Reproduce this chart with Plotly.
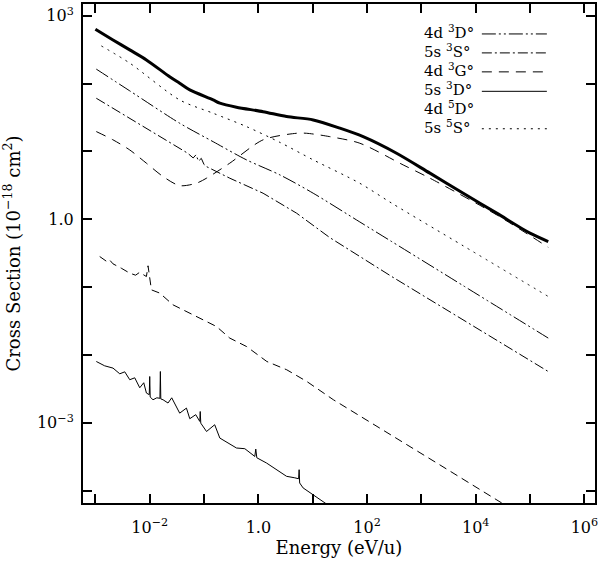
import plotly.graph_objects as go

# ---------------- data ----------------
# Thick solid curve (top)
total_E = [1.0e-3, 2.11e-3, 4.29e-3, 8.69e-3, 0.0233, 0.0356, 0.0546, 0.147, 0.195, 0.395,
           1.22, 3.30, 10.2, 31.6, 84.7, 349, 1435, 5890, 24300, 99500, 216000]
total_S = [631, 439, 313, 223, 126, 101, 80.5, 57.3, 51.3, 44.8,
           38.5, 32.6, 29.1, 22.0, 16.5, 9.40, 4.78, 2.42, 1.23, 0.624, 0.470]

# 5s 5S° (dotted)
s5S_E = [1.29e-3, 4.29e-3, 0.0356, 0.147, 0.604, 2.48, 10.2, 73.6, 283, 5890, 216000]
s5S_S = [358, 200, 57.3, 36.5, 23.2, 13.6, 7.50, 3.39, 1.73, 0.406, 0.0728]

# 4d 3D° (dash-dot-dot)
d3D_E = [1.04e-3, 4.29e-3, 0.0356, 0.147, 0.604, 2.48, 10.2, 73.6, 283, 5890, 216000]
d3D_S = [163, 78.0, 26.0, 13.9, 7.50, 4.51, 2.42, 0.912, 0.470, 0.105, 0.01774]

# 5s 3S° (dash-dot)
s3S_E = [1.04e-3, 4.29e-3, 0.0356, 0.050, 0.063, 0.071, 0.079, 0.089, 0.100, 0.111,
         0.297, 1.22, 5.04, 20.6, 283, 5890, 216000]
s3S_S = [60.7, 30.8, 11.1, 9.4, 8.0, 8.9, 7.2, 7.9, 6.4, 5.97,
         4.03, 2.42, 1.23, 0.537, 0.1435, 0.0328, 0.00571]

# 4d 3G° (dashed, with the dip)
d3G_E = [1.04e-3, 2.11e-3, 4.29e-3, 8.69e-3, 0.0176, 0.0356, 0.0724, 0.111, 0.297, 1.22,
         5.04, 7.69, 20.6, 73.6, 462, 1435, 24300, 216000]
d3G_S = [19.6, 14.8, 10.5, 6.70, 4.26, 3.13, 3.40, 4.03, 6.70, 14.8,
         18.5, 18.5, 16.5, 13.2, 6.32, 4.03, 1.16, 0.386]

# 4d 5D° (lower dashed, noisy)
d5D_E = [1.20e-3, 1.6e-3, 1.8e-3, 2.11e-3, 3.0e-3, 4.29e-3, 5.5e-3, 6.5e-3, 8.69e-3, 9.31e-3,
         0.01074, 0.01528, 0.02685, 0.0546, 0.0834, 0.169, 0.297, 0.604, 1.43, 3.33,
         7.78, 24.0, 2190, 39800]
d5D_S = [0.2825, 0.240, 0.255, 0.2203, 0.190, 0.1607, 0.150, 0.165, 0.1432, 0.2061,
         0.0912, 0.0817, 0.0548, 0.0414, 0.0349, 0.0263, 0.01774, 0.01334, 0.00802, 0.00605,
         0.00407, 0.00219, 2.40e-4, 5.75e-5]

# 5s 3D° (lowest solid, noisy)
s3D_E = [1.04e-3, 1.48e-3, 2.11e-3, 2.81e-3, 3.47e-3, 4.29e-3, 5.30e-3, 6.55e-3, 7.76e-3, 8.69e-3,
         9.8e-3, 1.00e-2, 1.02e-2, 1.15e-2, 1.35e-2, 1.54e-2, 1.57e-2, 1.60e-2, 1.76e-2, 2.17e-2,
         2.54e-2, 3.56e-2, 4.74e-2, 5.46e-2, 7.03e-2, 8.34e-2, 8.5e-2, 8.7e-2, 0.111, 0.157,
         0.195, 0.395, 0.562, 0.859, 0.895, 0.935, 1.41, 3.30, 4.68, 5.5, 5.62, 5.75,
         6.65, 10.2, 16.7, 25.5]
s3D_S = [8.02e-3, 6.93e-3, 6.41e-3, 5.28e-3, 5.65e-3, 4.32e-3, 4.61e-3, 3.29e-3, 3.90e-3, 2.75e-3,
         2.6e-3, 4.82e-3, 2.4e-3, 2.19e-3, 2.34e-3, 2.3e-3, 5.71e-3, 2.25e-3, 2.19e-3, 1.96e-3,
         2.34e-3, 1.39e-3, 1.65e-3, 1.15e-3, 1.32e-3, 1.05e-3, 1.47e-3, 9.9e-4, 7.46e-4, 9.38e-4,
         5.97e-4, 4.26e-4, 4.16e-4, 3.20e-4, 4.11e-4, 3.06e-4, 2.56e-4, 1.63e-4, 1.55e-4, 1.5e-4,
         2.04e-4, 1.3e-4, 1.10e-4, 8.73e-5, 6.59e-5, 5.25e-5]

x_tickvals = [1e-2, 1, 1e2, 1e4, 1e6]
x_ticktext = ["10<sup>\u22122</sup>", "1.0", "10<sup>2</sup>", "10<sup>4</sup>", "10<sup>6</sup>"]
x_minorvals = [1e-3, 1e-1, 1e1, 1e3, 1e5]
y_tickvals = [1e-3, 1, 1e3]
y_ticktext = ["10<sup>\u22123</sup>", "1.0", "10<sup>3</sup>"]
y_minorvals = [1e-4, 1e-2, 1e-1, 1e1, 1e2]

legend_labels = ["4d <sup>3</sup>D\u00b0", "5s <sup>3</sup>S\u00b0", "4d <sup>3</sup>G\u00b0",
                 "5s <sup>3</sup>D\u00b0", "4d <sup>5</sup>D\u00b0", "5s <sup>5</sup>S\u00b0"]
legend_dashes = ["14px,3px,2px,3px,2px,3px", "10px,3px,2px,3px", "10px,7px", "solid", None, "2px,5px"]

FONT = "DejaVu Serif"

fig = go.Figure()

def add(E, S, dash, width, name, shape="linear"):
    fig.add_trace(go.Scatter(x=E, y=S, mode="lines", name=name, showlegend=False,
                             line=dict(color="black", width=width, dash=dash, shape=shape,
                                       smoothing=0.8 if shape == "spline" else None)))

add(s3D_E, s3D_S, "solid", 1, "5s 3D°")
add(d5D_E, d5D_S, "8px,5px", 1, "4d 5D°")
add(d3G_E, d3G_S, "10px,7px", 1, "4d 3G°", "spline")
add(s3S_E, s3S_S, "10px,3px,2px,3px", 1, "5s 3S°")
add(d3D_E, d3D_S, "14px,3px,2px,3px,2px,3px", 1, "4d 3D°", "spline")
add(s5S_E, s5S_S, "2px,5px", 1, "5s 5S°", "spline")
add(total_E, total_S, "solid", 3, "Total", "spline")

# custom legend: text on the left, line sample on the right
row_y = [0.944, 0.906, 0.868, 0.829, 0.792, 0.754]
for lab, dash, yy in zip(legend_labels, legend_dashes, row_y):
    fig.add_annotation(x=0.662, y=yy, xref="paper", yref="paper", text=lab, showarrow=False,
                       xanchor="left", yanchor="middle", font=dict(family=FONT, size=15, color="black"))
    if dash is not None:
        fig.add_shape(type="line", xref="paper", yref="paper", x0=0.779, x1=0.906,
                      y0=yy - 0.004, y1=yy - 0.004, line=dict(color="black", width=1, dash=dash))

axis_common = dict(type="log", showgrid=False, zeroline=False, showline=True, linecolor="black",
                   linewidth=2, mirror="ticks", ticks="inside", ticklen=9, tickwidth=2,
                   tickcolor="black", tickmode="array", automargin=False,
                   tickfont=dict(family=FONT, size=16, color="black"))

fig.update_xaxes(**axis_common, range=[-3.228, 6.195], tickvals=x_tickvals, ticktext=x_ticktext,
                 minor=dict(tickvals=x_minorvals, ticks="inside", ticklen=9, tickwidth=1.5,
                            tickcolor="black"),
                 ticklabelstandoff=9,
                 title=dict(text="Energy (eV/u)", font=dict(family=FONT, size=18, color="black"),
                            standoff=2))
fig.update_yaxes(**axis_common, range=[-4.181, 3.172], tickvals=y_tickvals, ticktext=y_ticktext,
                 minor=dict(tickvals=y_minorvals, ticks="inside", ticklen=9, tickwidth=1.5,
                            tickcolor="black"),
                 ticklabelstandoff=4,
                 title=dict(text="Cross Section (10<sup>\u221218</sup> cm<sup>2</sup>)",
                            font=dict(family=FONT, size=18, color="black"), standoff=14))

fig.update_layout(width=600, height=561, margin=dict(l=83, r=5, t=4, b=58),
                  paper_bgcolor="white", plot_bgcolor="white", showlegend=False)

fig.write_html("out.html", config={"displayModeBar": False},
               post_script="document.body.style.margin='0';document.body.style.overflow='hidden';")
